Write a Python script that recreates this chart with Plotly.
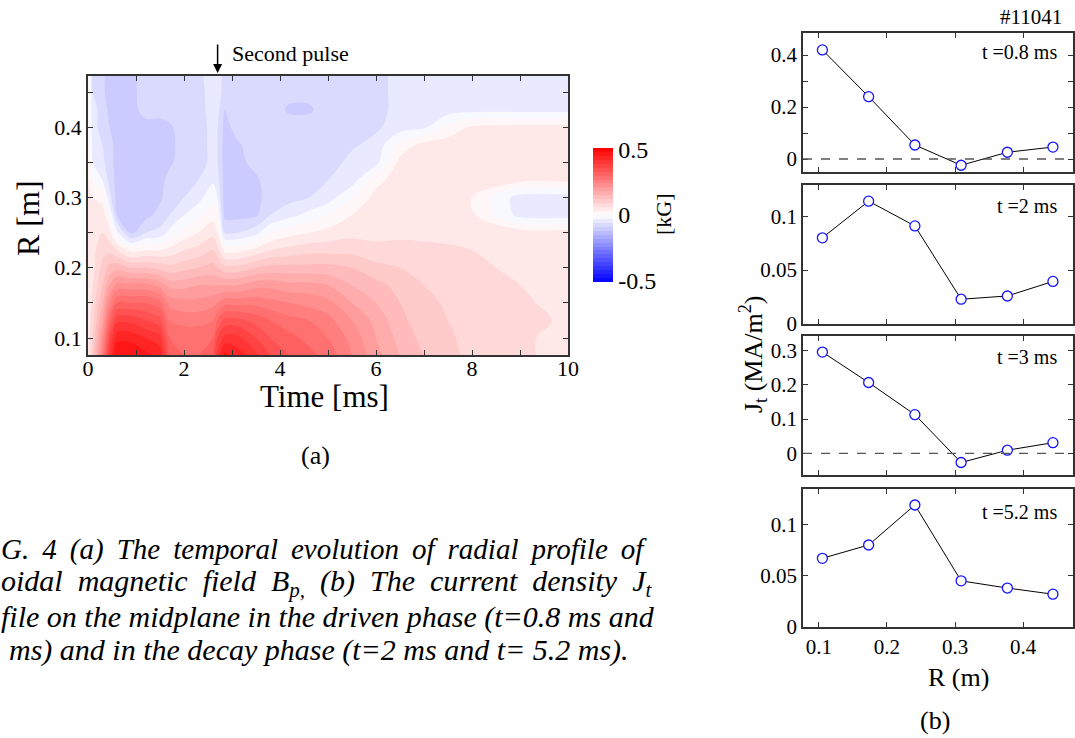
import plotly.graph_objects as go

# ---------------- data: (a) contour map of Bp [kG] ----------------
time_ms = [0, 0.1, 0.3, 0.45, 0.6, 0.9, 1.2, 1.5, 1.7, 2.0, 2.3, 2.6, 2.7, 2.85,
           3.1, 3.5, 3.8, 4.2, 4.6, 5.0, 5.5, 6.0, 6.5, 7.0, 7.5, 8.0, 9.0, 10.0]
radius_m = [0.075, 0.1, 0.125, 0.15, 0.175, 0.2, 0.225, 0.25, 0.275, 0.3,
            0.325, 0.35, 0.375, 0.4, 0.425, 0.45, 0.475]
# one column per time, values from R=0.075 (first) to R=0.475 (last)
bp_columns = [
    [.04, .04, .04, .04, .04, .04, .04, .04, .04, .04, .035, .035, .035, .03, .03, .03, .03],
    [.10, .09, .08, .07, .06, .05, .05, .04, .035, .03, 0, -.03, -.04, -.05, -.05, -.06, -.07],
    [.25, .22, .18, .15, .12, .10, .08, .06, .045, .02, -.03, -.05, -.06, -.07, -.07, -.08, -.08],
    [.40, .36, .30, .24, .18, .13, .08, .04, 0, -.05, -.07, -.08, -.08, -.09, -.10, -.11, -.11],
    [.48, .44, .38, .30, .22, .14, .06, -.02, -.09, -.10, -.10, -.10, -.10, -.10, -.10, -.10, -.10],
    [.48, .44, .38, .30, .22, .12, .02, -.10, -.105, -.105, -.105, -.105, -.105, -.105, -.10, -.10, -.10],
    [.46, .42, .36, .30, .22, .12, .03, -.06, -.10, -.105, -.105, -.105, -.105, -.10, -.08, -.075, -.075],
    [.44, .40, .34, .28, .20, .11, .03, -.05, -.08, -.095, -.10, -.10, -.10, -.10, -.08, -.075, -.075],
    [.32, .30, .27, .23, .17, .10, .04, -.02, -.06, -.075, -.08, -.095, -.10, -.095, -.075, -.075, -.075],
    [.30, .29, .26, .22, .17, .11, .06, .01, -.03, -.06, -.075, -.075, -.075, -.075, -.075, -.075, -.075],
    [.30, .29, .26, .22, .18, .12, .07, .03, -.01, -.04, -.06, -.075, -.075, -.075, -.075, -.075, -.075],
    [.32, .30, .27, .23, .18, .13, .09, .05, .02, -.01, -.035, -.05, -.05, -.05, -.045, -.04, -.03],
    [.40, .36, .30, .24, .18, .12, .07, .03, 0, -.03, -.05, -.06, -.06, -.06, -.05, -.04, -.03],
    [.46, .40, .34, .26, .18, .10, .02, -.06, -.10, -.105, -.105, -.105, -.105, -.10, -.09, -.08, -.08],
    [.44, .40, .34, .26, .18, .10, .02, -.06, -.10, -.10, -.10, -.10, -.095, -.08, -.075, -.075, -.075],
    [.40, .36, .32, .26, .20, .12, .04, -.04, -.095, -.10, -.095, -.08, -.075, -.075, -.075, -.075, -.075],
    [.36, .33, .30, .25, .20, .13, .06, 0, -.06, -.075, -.075, -.075, -.075, -.075, -.075, -.075, -.075],
    [.33, .31, .28, .24, .19, .13, .07, .02, -.04, -.07, -.075, -.075, -.075, -.075, -.095, -.08, -.075],
    [.31, .29, .27, .23, .19, .13, .08, .03, -.02, -.06, -.075, -.075, -.075, -.075, -.095, -.08, -.075],
    [.29, .27, .25, .22, .18, .13, .08, .04, 0, -.045, -.06, -.075, -.075, -.075, -.075, -.075, -.075],
    [.24, .23, .21, .18, .15, .12, .08, .05, .03, 0, -.045, -.05, -.065, -.07, -.07, -.07, -.07],
    [.19, .18, .17, .15, .13, .10, .07, .05, .045, .04, .02, -.04, -.05, -.065, -.07, -.07, -.07],
    [.15, .14, .13, .12, .11, .09, .075, .05, .045, .045, .045, .04, .01, -.045, -.05, -.05, -.05],
    [.12, .11, .10, .10, .09, .08, .07, .05, .045, .045, .045, .045, .04, -.035, -.045, -.045, -.045],
    [.10, .095, .09, .085, .08, .07, .065, .05, .045, .045, .045, .045, .045, .01, -.045, -.045, -.045],
    [.08, .08, .08, .075, .07, .065, .06, .045, .035, .03, .045, .045, .045, .035, -.04, -.045, -.045],
    [.065, .065, .07, .065, .06, .055, .05, .045, -.04, -.045, .04, .045, .045, .04, -.04, -.045, -.045],
    [.05, .05, .055, .05, .05, .05, .05, .045, -.045, -.045, .04, .045, .045, .04, -.04, -.045, -.045],
]

# ---------------- data: (b) current density profiles ----------------
R_probe = [0.105, 0.173, 0.241, 0.309, 0.377, 0.444]
Jt_0p8ms = [0.420, 0.240, 0.054, -0.024, 0.026, 0.046]
Jt_2ms = [0.080, 0.114, 0.091, 0.023, 0.026, 0.0395]
Jt_3ms = [0.296, 0.207, 0.113, -0.027, 0.009, 0.031]
Jt_5p2ms = [0.067, 0.080, 0.119, 0.045, 0.038, 0.032]
panel_labels = ["t =0.8 ms", "t =2 ms", "t =3 ms", "t =5.2 ms"]

W, H = 1075, 738
FONT = "Liberation Serif, Times New Roman, serif"
AX = "#333333"


def px_x(x):
    return x / W


def px_y(y):
    return 1 - y / H


fig = go.Figure()

fig.add_trace(go.Contour(
    x=time_ms, y=radius_m, z=bp_columns, transpose=True,
    zmin=-0.51, zmax=0.51, autocontour=False,
    contours=dict(start=-0.51, end=0.51, size=0.03, coloring="fill", showlines=False),
    line=dict(width=0),
    colorscale=[[0, "rgb(0,0,255)"], [0.5, "rgb(255,255,255)"], [1, "rgb(255,0,0)"]],
    colorbar=dict(x=px_x(593), xanchor="left", thickness=20, thicknessmode="pixels",
                  len=134, lenmode="pixels", y=px_y(215), yanchor="middle",
                  outlinewidth=0, ticks="", tickvals=[-0.5, 0, 0.5],
                  ticktext=["-0.5", "0", "0.5"],
                  tickfont=dict(family=FONT, size=24, color="black"), xpad=0, ypad=0),
    xaxis="x", yaxis="y", showscale=True, hoverinfo="skip",
))

series = [Jt_0p8ms, Jt_2ms, Jt_3ms, Jt_5p2ms]
for i, vals in enumerate(series):
    n = i + 2
    fig.add_trace(go.Scatter(
        x=R_probe, y=vals, mode="lines+markers",
        line=dict(color="black", width=1),
        marker=dict(symbol="circle", size=10, color="white",
                    line=dict(color="rgb(20,20,255)", width=1.3)),
        xaxis=f"x{n}", yaxis=f"y{n}", showlegend=False,
    ))

base_ax = dict(showline=True, linecolor=AX, linewidth=1.5, mirror="ticks",
               ticks="inside", tickcolor=AX, ticklen=5, tickwidth=1.2,
               showgrid=False, zeroline=False, automargin=False,
               tickfont=dict(family=FONT, size=21, color="black"))

layout = dict(
    width=W, height=H, margin=dict(l=0, r=0, t=0, b=0, autoexpand=False),
    paper_bgcolor="white", plot_bgcolor="white", showlegend=False,
    font=dict(family=FONT, color="black"),
    xaxis=dict(base_ax, domain=[px_x(88), px_x(568)], range=[0, 10],
               tickvals=[0, 2, 4, 6, 8, 10], minor=dict(dtick=1, ticks="inside", ticklen=5, tickcolor=AX),
               ticklabelstandoff=-7,
               tickfont=dict(family=FONT, size=22, color="black"), anchor="y"),
    yaxis=dict(base_ax, domain=[px_y(355), px_y(76)], range=[0.0758, 0.473],
               tickvals=[0.1, 0.2, 0.3, 0.4], minor=dict(tickvals=[0.15, 0.25, 0.35, 0.45], ticks="inside", ticklen=5, tickcolor=AX),
               tickfont=dict(family=FONT, size=22, color="black"), anchor="x"),
)

panel_px = [(33, 172), (185, 324), (336, 475), (489, 627)]
y_ranges = [[-0.05, 0.485], [0, 0.129], [-0.0635, 0.343], [0, 0.1346]]
y_ticks = [[0, 0.2, 0.4], [0, 0.05, 0.1], [0, 0.1, 0.2, 0.3], [0, 0.05, 0.1]]
y_text = [["0", "0.2", "0.4"], ["0", "0.05", "0.1"], ["0", "0.1", "0.2", "0.3"], ["0", "0.05", "0.1"]]
for i, (top, bot) in enumerate(panel_px):
    n = i + 2
    xa = dict(base_ax, domain=[px_x(803), px_x(1073)], range=[0.0765, 0.4735],
              tickvals=[0.1, 0.2, 0.3, 0.4], ticktext=["0.1", "0.2", "0.3", "0.4"],
              showticklabels=(i == 3), anchor=f"y{n}")
    ya = dict(base_ax, domain=[px_y(bot), px_y(top)], range=y_ranges[i],
              tickvals=y_ticks[i], ticktext=y_text[i], anchor=f"x{n}")
    if i == 0:
        ya["minor"] = dict(tickvals=[0.1, 0.3], ticks="inside", ticklen=5, tickcolor=AX)
    layout[f"xaxis{n}"] = xa
    layout[f"yaxis{n}"] = ya

fig.update_layout(**layout)

# dashed zero reference lines in the panels that cross zero
for n in (2, 4):
    fig.add_shape(type="line", xref=f"x{n} domain", yref=f"y{n}", x0=0, x1=1, y0=0, y1=0,
                  line=dict(color="#555555", width=1.3, dash="dash"))

ann = []


def text(x, y, s, size, xanchor="center", angle=0, italic=False):
    ann.append(dict(xref="paper", yref="paper", x=px_x(x), y=px_y(y), text=s,
                    showarrow=False, xanchor=xanchor, yanchor="middle", textangle=angle,
                    borderpad=0, font=dict(family=FONT, size=size, color="black",
                                           style="italic" if italic else "normal")))


# panel (a) labels
text(28, 218, "R [m]", 32, angle=-90)
text(324, 396, "Time [ms]", 31)
text(315, 455, "(a)", 26)
text(231, 53, "Second pulse", 22, xanchor="left")
text(663, 214, "[kG]", 22, angle=-90)
ann.append(dict(xref="x", yref="paper", x=2.7, y=px_y(73), ax=0, ay=-30, text="",
                showarrow=True, arrowhead=2, arrowsize=1.2, arrowwidth=1.5, arrowcolor="black"))

# panel (b) labels
text(1063, 17, "#11041", 21, xanchor="right")
label_y = [52, 206, 357, 512]
for lab, yy in zip(panel_labels, label_y):
    text(1058, yy, lab, 20, xanchor="right")
text(753, 355, "J<sub>t</sub> (MA/m<sup>2</sup>)", 26, angle=-90)
text(958, 677, "R (m)", 26)
text(935, 720, "(b)", 26)

# caption (cropped at the left edge in the original)
T = "\u2009"
N = "&nbsp;"
caption = [
    f"G.{T} 4{T} (a){T} The{T} temporal{T} evolution{T} of{T} radial{T} profile{T} of",
    f"oidal {N}magnetic {N}field {N}B<sub>p,</sub> {N}(b) {N}The {N}current {N}density {N}J<sub>t</sub>",
    "file on the midplane in the driven phase (t=0.8 ms and",
    "ms) and in the decay phase (t=2 ms and t= 5.2 ms).",
]
cap_x = [0, 0, 0, 8]
cap_y = [549, 583, 617, 650]
cap_size = [29, 30, 30, 30]
for s, xx, yy, fs in zip(caption, cap_x, cap_y, cap_size):
    text(xx, yy, s, fs, xanchor="left", italic=True)

fig.update_layout(annotations=ann)
fig.write_html("out.html", config={"displayModeBar": False},
               post_script="document.body.style.margin='0';document.body.style.overflow='hidden';")
